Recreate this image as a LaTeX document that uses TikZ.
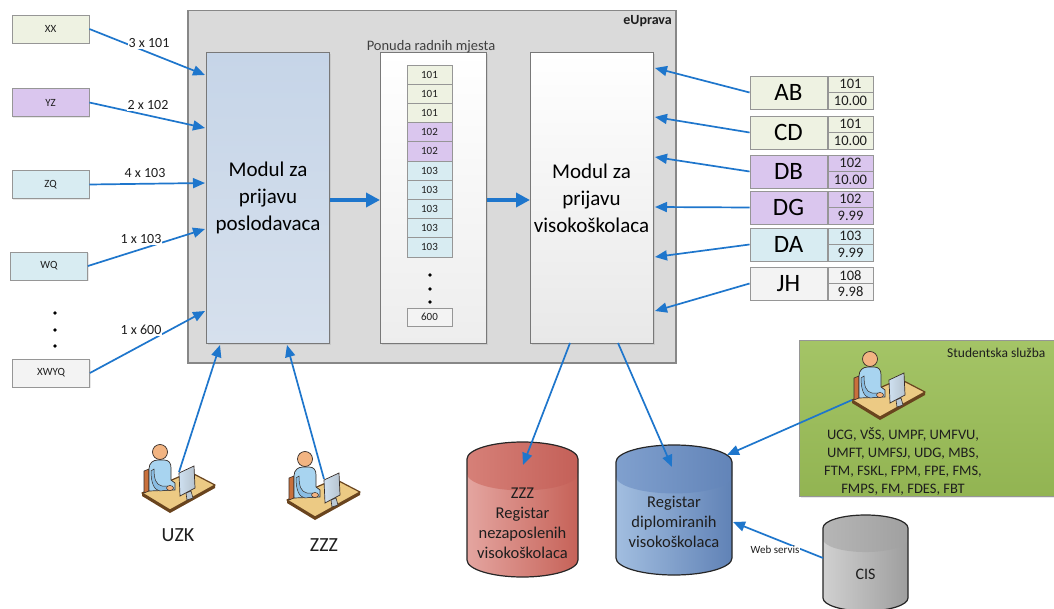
\documentclass[tikz,border=0pt]{standalone}
\usepackage{fontspec}
\setmainfont{Carlito}
\usetikzlibrary{arrows.meta,shadows}

% palette
\definecolor{flow}{RGB}{30,118,204}
\definecolor{frame}{RGB}{150,150,150}
\definecolor{ink}{RGB}{30,30,30}
\definecolor{cGreen}{RGB}{238,242,226}
\definecolor{cPurple}{RGB}{218,198,238}
\definecolor{cCyan}{RGB}{216,236,242}
\definecolor{cGray}{RGB}{243,243,243}
\definecolor{govFill}{RGB}{218,218,218}
\definecolor{empTop}{RGB}{198,213,232}
\definecolor{empBot}{RGB}{214,224,237}
\definecolor{greenTop}{RGB}{164,196,102}
\definecolor{greenBot}{RGB}{146,180,82}
% cylinders
\definecolor{redL}{RGB}{228,165,160}
\definecolor{redR}{RGB}{198,98,88}
\definecolor{redCL}{RGB}{214,128,120}
\definecolor{redCR}{RGB}{196,96,88}
\definecolor{blueL}{RGB}{162,190,224}
\definecolor{blueR}{RGB}{96,130,182}
\definecolor{blueCL}{RGB}{128,160,206}
\definecolor{blueCR}{RGB}{98,132,184}
\definecolor{grayL}{RGB}{208,208,208}
\definecolor{grayR}{RGB}{158,158,158}
\definecolor{grayCL}{RGB}{182,182,182}
\definecolor{grayCR}{RGB}{160,160,160}
% workstation icon
\definecolor{skin}{RGB}{242,180,130}
\definecolor{shirt}{RGB}{168,212,240}
\definecolor{shirtDark}{RGB}{112,170,216}
\definecolor{deskTop}{RGB}{236,202,132}
\definecolor{deskEdge}{RGB}{105,68,30}
\definecolor{chair}{RGB}{200,112,60}
\definecolor{screen}{RGB}{206,224,240}
\definecolor{iconLine}{RGB}{55,45,40}

% cylinder: cx, top-centre y, bottom-centre y, rx, ry, colour set
\newcommand\regcyl[6]{%
  \shade[left color=#6L, right color=#6R]
    (#1-#4,#2) -- (#1-#4,#3)
    arc[start angle=180,end angle=360,x radius=#4pt,y radius=#5pt]
    -- (#1+#4,#2)
    arc[start angle=0,end angle=180,x radius=#4pt,y radius=#5pt] -- cycle;
  \shade[left color=#6CL, right color=#6CR]
    (#1-#4,#2)
    arc[start angle=180,end angle=0,x radius=#4pt,y radius=#5pt]
    -- (#1+#4,#2+0.85*#5)
    arc[start angle=0,end angle=-180,x radius=#4pt,y radius=#5pt] -- cycle;
  \draw[cylline]
    (#1-#4,#2) -- (#1-#4,#3)
    arc[start angle=180,end angle=360,x radius=#4pt,y radius=#5pt]
    -- (#1+#4,#2)
    arc[start angle=0,end angle=180,x radius=#4pt,y radius=#5pt] -- cycle;
}

\tikzset{
  fs/.style 2 args={font=\fontsize{#1}{#2}\selectfont},
  shade1/.style={drop shadow={opacity=0.18, shadow xshift=1.2pt, shadow yshift=-1.2pt}},
  tag/.style={draw=frame, line width=0.8pt, minimum width=77pt, minimum height=28pt,
    inner sep=0pt, text=ink, fs={11}{13}, shade1},
  cell/.style={draw=frame, line width=0.8pt, minimum width=45pt, minimum height=19.2pt,
    inner sep=0pt, text=ink, fs={11}{13}},
  namebox/.style={draw=frame, line width=0.9pt, minimum width=77pt, minimum height=33pt,
    inner sep=0pt, text=black, fs={25}{28}, shade1},
  valbox/.style={draw=frame, line width=0.9pt, minimum width=45pt, minimum height=16.5pt,
    inner sep=0pt, text=ink, fs={14.5}{16}, shade1},
  panel/.style={anchor=north west, inner sep=0pt},
  conn/.style={flow, line width=1.7pt, -{Triangle[length=12pt,width=10pt]}},
  bigconn/.style={flow, line width=3.5pt, -{Triangle[length=14pt,width=14pt]}},
  lbl/.style={fill=white, inner sep=1pt, text=ink, fs={14}{16}},
  cylline/.style={draw=black!85, line width=1.2pt},
  workdesk/.pic={
    \coordinate (-screen) at (37,29);
    \coordinate (-edge) at (0,50);
    % desk top with its front edge
    \fill[deskEdge] (0,50) -- (28,67) -- (73,42) -- (73,45) -- (28,70) -- (0,53) -- cycle;
    \filldraw[fill=deskTop, draw=deskEdge, line width=1.2pt, line join=round]
      (0,50) -- (48,29) -- (73,42) -- (28,67) -- cycle;
    % chair back
    \filldraw[fill=chair, draw=iconLine, line width=0.6pt] (2,28) -- (7,26) -- (7,48) -- (2,50) -- cycle;
    % torso
    \filldraw[fill=shirt, draw=iconLine, line width=0.7pt]
      (7,48) -- (7,26) .. controls (7,20) and (11,17) .. (16,17) -- (22,17)
      .. controls (27,17) and (29,20) .. (29,25) -- (29,37) -- (33,40) -- (33,47) -- cycle;
    % arm
    \filldraw[fill=shirtDark!55!shirt, draw=iconLine, line width=0.5pt]
      (12,26) .. controls (12,36) and (14,42) .. (20,43) -- (27,43) -- (27,47) -- (18,48)
      .. controls (12,47) and (9,40) .. (9,28) -- cycle;
    % hand
    \filldraw[fill=skin, draw=iconLine, line width=0.5pt] (28,45) ellipse[x radius=3.5, y radius=2.5];
    % head
    \filldraw[fill=skin, draw=iconLine, line width=0.7pt] (18,9) circle[radius=7.5];
    % monitor and stand
    \filldraw[fill=screen!75!gray, draw=iconLine, line width=0.6pt] (44,50) -- (45,57) -- (51,55) -- (49,48) -- cycle;
    \shade[left color=screen, right color=screen!70!gray, draw=iconLine, line width=0.7pt]
      (37,30) -- (52,23) -- (53,45) -- (38,53) -- cycle;
  }
}

\begin{document}
\begin{tikzpicture}[x=1pt,y=-1pt]
\useasboundingbox (0,0) rectangle (1054,609);
\fill[white] (0,0) rectangle (1054,609);

% ---------- eUprava container ----------
\node[panel, draw=frame!90!black, line width=1.5pt, fill=govFill,
      minimum width=488pt, minimum height=352pt] (gov) at (187,10) {};
\node[anchor=north east, inner sep=0pt, font=\bfseries\fontsize{14}{16}\selectfont, text=ink]
  (govname) at (672,15) {eUprava};

% employer module
\node[panel, draw=frame!80!black, line width=1pt, top color=empTop, bottom color=empBot,
      minimum width=123pt, minimum height=291pt, shade1] (lmod) at (206,52) {};
\node[align=center, fs={21}{27}, text=black] (lmodtxt) at (268,198) {Modul za\\prijavu\\poslodavaca};

% offers column
\node[panel, draw=frame!80!black, line width=1pt, top color=white, bottom color=black!7,
      minimum width=106pt, minimum height=291pt, shade1] (offers) at (380,52) {};
\node[fs={14.5}{16}, text=black!75, inner sep=0pt] (offerstitle) at (431,47) {Ponuda radnih mjesta};

\foreach \v/\col [count=\i] in {101/cGreen,101/cGreen,101/cGreen,102/cPurple,102/cPurple,
                               103/cCyan,103/cCyan,103/cCyan,103/cCyan,103/cCyan}{
  \node[cell, fill=\col] (c\i) at (429.5,{65+(\i-0.5)*19.2}) {\v};
}
\foreach \y in {275,289,302} \fill[black] (430,\y) circle[radius=1.8];
\node[cell, fill=cGray, minimum height=18pt] (c600) at (429.5,317) {600};

% graduate module
\node[panel, draw=frame!80!black, line width=1pt, top color=white, bottom color=black!9,
      minimum width=123pt, minimum height=291pt, shade1] (rmod) at (530,52) {};
\node[align=center, fs={21}{27}, text=black] (rmodtxt) at (591.5,198) {Modul za\\prijavu\\visokoškolaca};

\draw[bigconn] (lmod.east |- 0,200) -- (offers.west |- 0,200);
\draw[bigconn] (offers.east |- 0,200) -- (rmod.west |- 0,200);

% ---------- employers ----------
\node[tag, fill=cGreen]  (xx)   at (50.5,29)   {XX};
\node[tag, fill=cPurple] (yz)   at (50.5,102.5) {YZ};
\node[tag, fill=cCyan]   (zq)   at (50.5,184.5) {ZQ};
\node[tag, fill=cCyan]   (wq)   at (49,266)    {WQ};
\node[tag, fill=cGray]   (xwyq) at (51,373)    {XWYQ};
\foreach \y in {313,330,346} \fill[black] (55,\y) circle[radius=1.8];

\coordinate (l1) at (205,75);
\coordinate (l2) at (205,128);
\coordinate (l3) at (205,183);
\coordinate (l4) at (205,229);
\coordinate (l5) at (205,311);
\draw[conn] (xx.east)   -- (l1);
\draw[conn] (yz.east)   -- (l2);
\draw[conn] (zq.east)   -- (l3);
\draw[conn] (wq.east)   -- (l4);
\draw[conn] (xwyq.east) -- (l5);
\node[lbl] (q1) at (149,43)  {3 x 101};
\node[lbl] (q2) at (148,105) {2 x 102};
\node[lbl] (q3) at (145,173) {4 x 103};
\node[lbl] (q4) at (141,239) {1 x 103};
\node[lbl] (q5) at (141,330) {1 x 600};

% ---------- graduates ----------
\foreach \nm/\yt/\col/\code/\grade/\tip [count=\i] in
  {AB/76/cGreen/101/10.00/68, CD/116/cGreen/101/10.00/117, DB/155/cPurple/102/10.00/157,
   DG/191/cPurple/102/9.99/207, DA/228/cCyan/103/9.99/257, JH/267/cGray/108/9.98/311}{
  \node[namebox, fill=\col] (r\i) at (788.5,\yt+16.5) {\nm};
  \node[valbox, fill=\col] (r\i-a) at (850.5,\yt+8.25) {\code};
  \node[valbox, fill=\col] (r\i-b) at (850.5,\yt+24.75) {\grade};
  \coordinate (t\i) at (655,\tip);
  \draw[conn] (r\i.west) -- (t\i);
}

% ---------- operators ----------
\pic (uzk) at (142,443) {workdesk};
\pic (zzz) at (287,450) {workdesk};
\node[fs={20}{22}, text=ink] (uzkname) at (178,535) {UZK};
\node[fs={20}{22}, text=ink] (zzzname) at (324,545) {ZZZ};
\coordinate (lb1) at (220,345);
\coordinate (lb2) at (287,345);
\draw[conn] (uzk-screen) -- (lb1);
\draw[conn] (zzz-screen) -- (lb2);

% ---------- student services ----------
\node[panel, draw=frame, line width=1pt, top color=greenTop, bottom color=greenBot,
      minimum width=262pt, minimum height=156pt, shade1] (stud) at (799,340) {};
\node[anchor=west, inner sep=0pt, fs={13.5}{15}, text=ink] (studname) at (947,353) {Studentska služba};
\pic (office) at (852,350) {workdesk};
\node[align=center, fs={14.5}{17.8}, text=ink] (unis) at (903,461.5)
  {UCG, VŠS, UMPF, UMFVU,\\UMFT, UMFSJ, UDG, MBS,\\FTM, FSKL, FPM, FPE, FMS,\\FMPS, FM, FDES, FBT};

% ---------- registers ----------
\regcyl{522.5}{459}{560}{55.5}{17}{red}
\node[align=center, fs={16.5}{20}, text=ink] (reg1) at (522.5,523) {ZZZ\\Registar\\nezaposlenih\\visokoškolaca};
\regcyl{674}{462}{558}{58}{17}{blue}
\node[align=center, fs={16.5}{20}, text=ink] (reg2) at (674,522) {Registar\\diplomiranih\\visokoškolaca};
\regcyl{865.5}{528}{598}{42.5}{13}{gray}
\node[fs={16}{18}, text=ink] (cis) at (865.5,574) {CIS};

\coordinate (m1) at (570,343);
\coordinate (m2) at (618,343);
\coordinate (d1) at (523,465);
\coordinate (d2) at (672,467);
\coordinate (d3) at (727,455);
\coordinate (d4) at (733,522);
\coordinate (cisl) at (823,558);
\draw[conn] (m1) -- (d1);
\draw[conn] (m2) -- (d2);
\draw[conn] (office-edge) -- (d3);
\draw[conn] (cisl) -- (d4);
\node[fill=white, inner sep=0.5pt, fs={11}{12}, text=ink] (ws) at (775,550) {Web servis};
\end{tikzpicture}
\end{document}
